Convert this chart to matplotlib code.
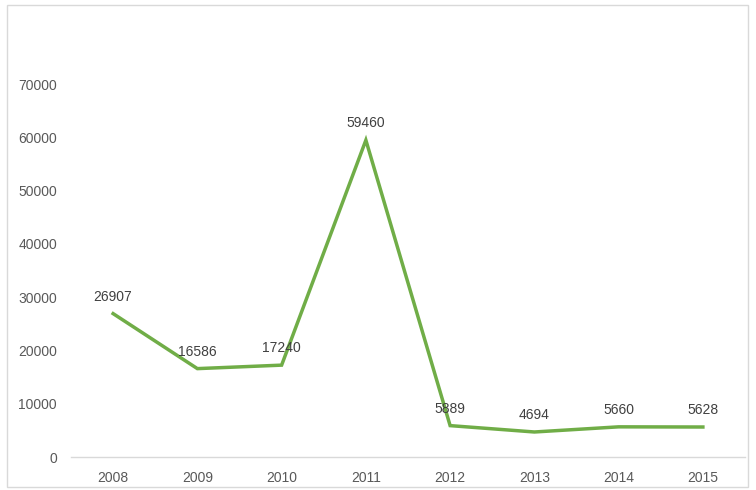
import matplotlib
matplotlib.use("Agg")
import matplotlib.pyplot as plt
from matplotlib.patches import Rectangle

years = ["2008", "2009", "2010", "2011", "2012", "2013", "2014", "2015"]
values = [26907, 16586, 17240, 59460, 5889, 4694, 5660, 5628]
yticks = [0, 10000, 20000, 30000, 40000, 50000, 60000, 70000]

plt.rcParams['font.family'] = ['Liberation Sans', 'DejaVu Sans']

fig = plt.figure(figsize=(7.56, 4.9), dpi=100)
fig.patches.append(Rectangle((7/756, 1-487/490), (748-7)/756, (487-5)/490,
                             transform=fig.transFigure, fill=False,
                             edgecolor='#d9d9d9', linewidth=1))
ax = fig.add_axes([71/756, 1-457/490, (745-71)/756, (457-84)/490])

x = list(range(len(years)))
ax.plot(x, values, color='#70AD47', linewidth=2.5, solid_joinstyle='miter')
for xi, v in zip(x, values):
    ax.annotate(str(v), (xi, v), xytext=(0, 7), textcoords='offset points',
                ha='center', va='bottom', fontsize=10, color='#404040')

ax.set_xlim(-0.5, len(years) - 0.5)
ax.set_ylim(0, 70000)
ax.set_xticks(x)
ax.set_xticklabels(years)
ax.set_yticks(yticks)
ax.set_yticklabels([str(t) for t in yticks])
ax.tick_params(axis='both', length=0, labelsize=10, labelcolor='#595959')
ax.tick_params(axis='x', pad=10)
ax.tick_params(axis='y', pad=10)
for s in ['top', 'right', 'left']:
    ax.spines[s].set_visible(False)
ax.spines['bottom'].set_color('#d9d9d9')
ax.spines['bottom'].set_linewidth(1)

fig.savefig("out.png", dpi=100)
